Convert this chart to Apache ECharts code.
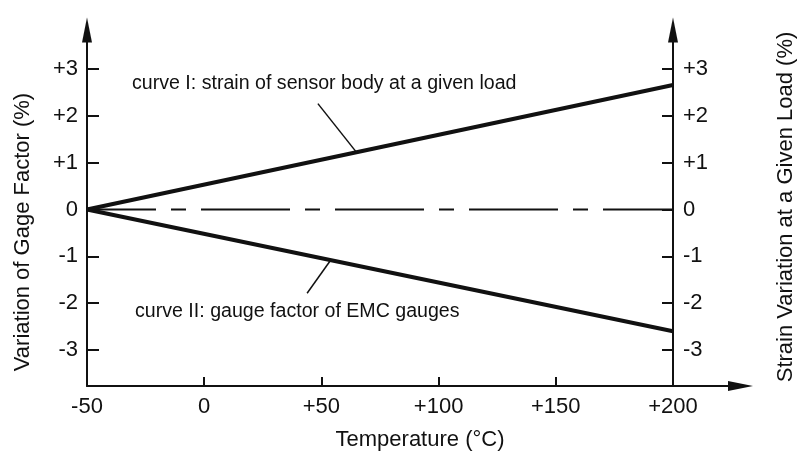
<!DOCTYPE html>
<html>
<head>
<meta charset="utf-8">
<script src="https://cdn.jsdelivr.net/npm/echarts@6/dist/echarts.min.js"></script>
<style>
html,body{margin:0;padding:0;background:#fff;}
#chart{width:798px;height:459px;}
</style>
</head>
<body>
<div id="chart"></div>
<script>
// ---- data ----
var temperatures = [-50, 200];
var curveIValues = [0, 2.66];      // strain of sensor body at a given load
var curveIIValues = [0, -2.6];     // gauge factor of EMC gauges
var zeroValues = [0, 0];
var xTickValues = [-50, 0, 50, 100, 150, 200];
var yTickValues = [-3, -2, -1, 0, 1, 2, 3];
var leaderI = [[48.5, 2.26], [65, 1.22]];
var leaderII = [[43.9, -1.79], [54, -1.08]];
var labelI = 'curve I: strain of sensor body at a given load';
var labelII = 'curve II: gauge factor of EMC gauges';
var xName = 'Temperature (°C)';
var yLeftName = 'Variation of Gage Factor (%)';
var yRightName = 'Strain Variation at a Given Load (%)';

function pairs(xs, ys){ return xs.map(function(x,i){ return [x, ys[i]]; }); }
function signFmt(v){ return v > 0 ? '+' + v : String(v); }

var FONT = '"Liberation Sans", Arial, sans-serif';
var INK = '#111';

var axisLineStyle = {color: INK, width: 2};

var chart = echarts.init(document.getElementById('chart'), null, {renderer: 'canvas'});
chart.setOption({
  animation: false,
  backgroundColor: '#fff',
  grid: {left: 87, right: 57.5, top: 30, bottom: 73, containLabel: false},
  xAxis: {
    type: 'value', min: -50, max: 228.8,
    axisLine: {show: true, onZero: false, lineStyle: axisLineStyle, symbol: ['none', 'triangle'], symbolSize: [10, 25]},
    axisTick: {show: true, inside: true, length: 9, lineStyle: {color: INK, width: 2}, customValues: xTickValues},
    axisLabel: {show: true, margin: 10, fontSize: 22, color: INK, fontFamily: FONT, formatter: signFmt, customValues: xTickValues},
    splitLine: {show: false}
  },
  yAxis: [{
    type: 'value', min: -3.77, max: 3.833, position: 'left',
    axisLine: {show: true, onZero: false, lineStyle: axisLineStyle, symbol: ['none', 'triangle'], symbolSize: [10, 25]},
    axisTick: {show: true, inside: true, length: 12, lineStyle: {color: INK, width: 2}, customValues: yTickValues},
    axisLabel: {show: true, margin: 9, fontSize: 22, color: INK, fontFamily: FONT, formatter: signFmt, customValues: yTickValues},
    splitLine: {show: false}
  }, {
    type: 'value', min: -3.77, max: 3.833, position: 'right', offset: -67.5,
    axisLine: {show: true, onZero: false, lineStyle: axisLineStyle, symbol: ['none', 'triangle'], symbolSize: [10, 25]},
    axisTick: {show: true, inside: true, length: 11, lineStyle: {color: INK, width: 2}, customValues: yTickValues},
    axisLabel: {show: true, margin: 10, fontSize: 22, color: INK, fontFamily: FONT, formatter: signFmt, customValues: yTickValues},
    splitLine: {show: false}
  }],
  series: [
    {type: 'line', data: pairs(temperatures, zeroValues), showSymbol: false, symbol: 'none',
     lineStyle: {color: INK, width: 2, type: [89, 15, 15, 15], dashOffset: 20}, z: 1},
    {type: 'line', data: pairs(temperatures, curveIValues), showSymbol: false, symbol: 'none',
     lineStyle: {color: INK, width: 4}, z: 3},
    {type: 'line', data: pairs(temperatures, curveIIValues), showSymbol: false, symbol: 'none',
     lineStyle: {color: INK, width: 4}, z: 3},
    {type: 'line', data: leaderI, showSymbol: false, symbol: 'none',
     lineStyle: {color: INK, width: 1.5}, z: 2},
    {type: 'line', data: leaderII, showSymbol: false, symbol: 'none',
     lineStyle: {color: INK, width: 1.5}, z: 2}
  ],
  graphic: [
    {type: 'text', x: 132, y: 84, style: {text: labelI, fontSize: 19.6, fontFamily: FONT, fill: INK, textAlign: 'left', textVerticalAlign: 'middle'}},
    {type: 'text', x: 135, y: 312, style: {text: labelII, fontSize: 19.6, fontFamily: FONT, fill: INK, textAlign: 'left', textVerticalAlign: 'middle'}},
    {type: 'text', x: 420, y: 440, style: {text: xName, fontSize: 22, fontFamily: FONT, fill: INK, textAlign: 'center', textVerticalAlign: 'middle'}},
    {type: 'text', x: 23, y: 232, rotation: Math.PI / 2, style: {text: yLeftName, fontSize: 22, fontFamily: FONT, fill: INK, textAlign: 'center', textVerticalAlign: 'middle'}},
    {type: 'text', x: 786, y: 207, rotation: Math.PI / 2, style: {text: yRightName, fontSize: 22, fontFamily: FONT, fill: INK, textAlign: 'center', textVerticalAlign: 'middle'}}
  ]
});
</script>
</body>
</html>
